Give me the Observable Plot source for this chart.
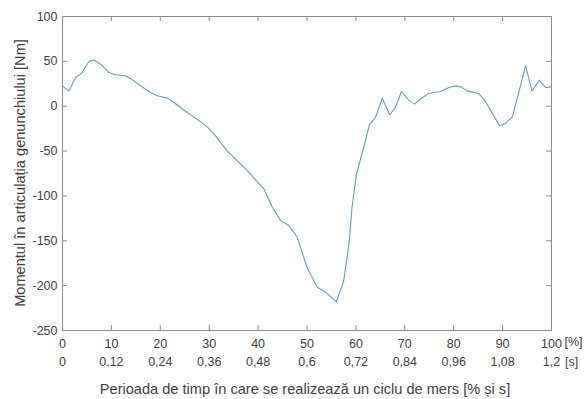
<!DOCTYPE html>
<html>
<head>
<meta charset="utf-8">
<script src="https://cdn.jsdelivr.net/npm/d3@7"></script>
<script src="https://cdn.jsdelivr.net/npm/@observablehq/plot@0.6"></script>
<style>
  html, body { margin: 0; padding: 0; background: #fff; }
  #chart svg { display: block; }
</style>
</head>
<body>
<div id="chart"></div>
<script>
// Gait cycle percentage (x) and knee joint moment in Nm (y)
const cyclePercent = [0, 1.3, 2.7, 4, 5.4, 6.4, 7.8, 9.5, 10.8, 12.9, 13.9, 16, 18, 19.4, 21.5, 22.8,
  25.5, 27.5, 29.6, 31.3, 33.7, 37.8, 41.2, 42.9, 44.6, 46.3, 48, 50, 52.1, 53.8, 56, 57.5, 58.6,
  59.2, 60.1, 61.6, 62.8, 64, 65.4, 66.9, 68.1, 69.3, 70.8, 72, 73.6, 74.9, 77.3, 79, 80.4, 81.4,
  82.8, 85.1, 86.2, 89.4, 90.6, 92, 93.3, 94.7, 96, 97.5, 98.8, 100];
const kneeMoment = [22.7, 17, 32, 37.5, 49.8, 51.6, 46.8, 37.5, 35, 33.8, 31, 22.7, 15.3, 11.6, 9, 4.1,
  -7, -14.4, -23, -33, -50, -71.9, -92.3, -112.7, -127.5, -133, -146, -179.5, -201.7, -207.3, -218, -195, -153,
  -113, -76, -46, -20, -12.6, 9, -9.6, -1.4, 16.4, 6.8, 2.3, 9.7, 14.1, 16.4, 20.8, 22.7, 21.6,
  17.1, 14.1, 7.9, -21.8, -19.2, -11.8, 15.2, 45, 17.1, 29, 20.8, 21.6];

const xTicks = [0, 10, 20, 30, 40, 50, 60, 70, 80, 90, 100];
const xTimeLabels = ["0", "0,12", "0,24", "0,36", "0,48", "0,6", "0,72", "0,84", "0,96", "1,08", "1,2"];
const yTicks = [100, 50, 0, -50, -100, -150, -200, -250];

const yLabel = "Momentul în articulația genunchiului [Nm]";
const xLabel = "Perioada de timp în care se realizează un ciclu de mers [% și s]";

const data = cyclePercent.map((x, i) => ({x, y: kneeMoment[i]}));

const W = 584, H = 399;
const mL = 62, mR = 33, mT = 16, mB = 69;
const pw = W - mL - mR, ph = H - mT - mB;
const tickLen = 5;
const textColor = "#404040";
const frameColor = "#8c8c8c";
const font = "Liberation Sans, Arial, sans-serif";

const chart = Plot.plot({
  width: W,
  height: H,
  marginLeft: mL,
  marginRight: mR,
  marginTop: mT,
  marginBottom: mB,
  style: {fontFamily: font, fontSize: "12px", color: textColor, background: "#fff"},
  x: {domain: [0, 100], label: null},
  y: {domain: [-250, 100], label: null},
  marks: [
    // inward ticks (MATLAB box style)
    Plot.tickX(xTicks, {x: d => d, stroke: frameColor, insetTop: ph - tickLen}),
    Plot.tickX(xTicks, {x: d => d, stroke: frameColor, insetBottom: ph - tickLen}),
    Plot.tickY(yTicks, {y: d => d, stroke: frameColor, insetRight: pw - tickLen}),
    Plot.tickY(yTicks, {y: d => d, stroke: frameColor, insetLeft: pw - tickLen}),
    Plot.frame({stroke: frameColor, strokeWidth: 1}),
    Plot.axisY(yTicks, {anchor: "left", tickSize: 0, tickPadding: 5, fontSize: 12.5, fill: textColor, label: null, tickFormat: d => String(d)}),
    Plot.axisX(xTicks, {anchor: "bottom", tickSize: 0, tickPadding: 9, fontSize: 12.5, fill: textColor, label: null, tickFormat: d => String(d)}),
    Plot.text(xTicks, {x: d => d, text: (d, i) => xTimeLabels[i], frameAnchor: "bottom", dy: 35, fontSize: 12.5, fill: textColor}),
    Plot.text(["[%]"], {x: () => 100, frameAnchor: "bottom", dy: 15.5, dx: 22, fontSize: 12.5, fill: textColor}),
    Plot.text(["[s]"], {x: () => 100, frameAnchor: "bottom", dy: 35, dx: 20, fontSize: 12.5, fill: textColor}),
    Plot.line(data, {x: "x", y: "y", stroke: "#5b9fd0", strokeWidth: 1.1})
  ]
});

// axis titles as SVG text
const svg = d3.select(chart);
svg.append("text")
  .attr("x", 305).attr("y", 390)
  .attr("text-anchor", "middle").attr("dominant-baseline", "middle")
  .attr("font-family", font).attr("font-size", 14.6).attr("fill", textColor)
  .text(xLabel);
svg.append("text")
  .attr("transform", `translate(21,${mT + ph / 2}) rotate(-90)`)
  .attr("text-anchor", "middle").attr("dominant-baseline", "middle")
  .attr("font-family", font).attr("font-size", 14.6).attr("fill", textColor)
  .text(yLabel);

document.getElementById("chart").appendChild(chart);
</script>
</body>
</html>
